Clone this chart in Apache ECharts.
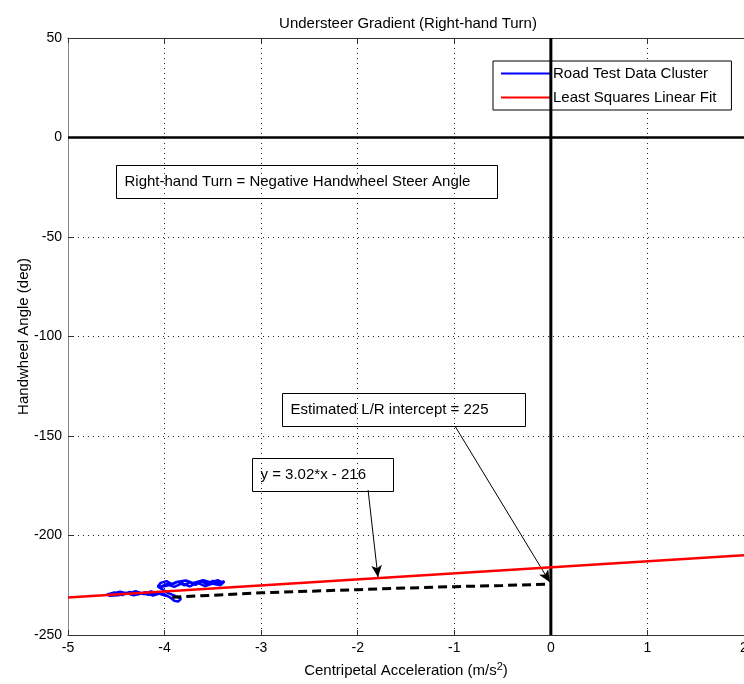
<!DOCTYPE html>
<html>
<head>
<meta charset="utf-8">
<script src="https://cdn.jsdelivr.net/npm/echarts@6/dist/echarts.min.js"></script>
<style>
  html, body { margin: 0; padding: 0; background: #fff; }
  #chart { width: 744px; height: 684px; }
</style>
</head>
<body>
<div id="chart"></div>
<script>
// Axis ranges and ticks
const xTicks = [-5, -4, -3, -2, -1, 0, 1, 2];
const yTicks = [-250, -200, -150, -100, -50, 0, 50];

// Road test samples: centripetal acceleration (m/s^2) vs handwheel angle (deg)
const clusterX = [-4.60, -4.52, -4.44, -4.36, -4.28, -4.20, -4.12, -4.04, -3.98, -4.06, -4.14, -4.22, -4.30, -4.38, -4.46, -4.55, -4.58, -4.48, -4.40, -4.32, -4.24, -4.16, -4.08, -4.00, -3.94, -3.90, -3.86, -3.83, -3.88, -3.96, -4.02, -4.07, -4.04, -3.98, -3.92, -3.86, -3.80, -3.74, -3.68, -3.62, -3.56, -3.50, -3.44, -3.38, -3.42, -3.50, -3.58, -3.66, -3.74, -3.82, -3.90, -3.98, -4.05, -3.97, -3.88, -3.78, -3.70, -3.60, -3.52, -3.45, -3.40];
const clusterY = [-229.8, -228.6, -229.9, -228.3, -229.7, -228.5, -230.2, -228.9, -230.4, -229.2, -228.1, -229.4, -228.0, -229.3, -228.2, -229.2, -230.3, -230.0, -228.8, -230.1, -229.0, -229.8, -228.6, -229.6, -231.2, -232.8, -233.2, -231.8, -230.6, -229.0, -227.2, -225.6, -223.8, -222.9, -224.6, -223.2, -225.0, -223.6, -224.8, -223.1, -224.4, -222.8, -224.0, -223.0, -225.0, -224.2, -225.4, -223.8, -225.6, -224.0, -225.8, -224.4, -226.0, -225.2, -223.4, -222.6, -223.9, -222.5, -223.6, -222.4, -223.5];

// Least squares fit y = 3.02*x - 216, endpoints at the axis limits
const fitX = [-5, 2];
const fitY = [-231.1, -209.96];

// Extrapolated cluster trend toward x = 0
const trendX = [-3.92, -3.5, -3.0, -2.5, -2.0, -1.5, -1.0, -0.5, 0];
const trendY = [-231.0, -230.0, -228.8, -228.0, -227.2, -226.4, -225.7, -225.1, -224.4];

// Reference axes through the origin
const zeroHX = [-5, 2];
const zeroHY = [0, 0];
const zeroVX = [0, 0];
const zeroVY = [-250, 50];

// Annotation texts, box anchors (top-left, data coords) and arrow endpoints
const noteTexts = [
  'Right-hand Turn = Negative Handwheel Steer Angle',
  'Estimated L/R intercept = 225',
  'y = 3.02*x - 216'
];
const noteAnchors = [[-4.503, -13.8], [-2.784, -128.4], [-3.095, -161.1]];
const noteBoxSizes = [[381, 33], [243, 33], [141, 33]];
const arrowFit = [[-1.893, -177.1], [-1.79, -221.0]];
const arrowIntercept = [[-0.993, -145.0], [-0.01, -223.5]];

const FONT = '"Liberation Sans", Arial, Helvetica, sans-serif';
const BLUE = '#0000ff';
const RED = '#ff0000';
const zip = (a, b) => a.map((v, i) => [v, b[i]]);

const chart = echarts.init(document.getElementById('chart'), null, { renderer: 'canvas' });

const option = {
  animation: false,
  backgroundColor: '#fff',
  textStyle: { fontFamily: FONT },
  title: {
    text: 'Understeer Gradient (Right-hand Turn)',
    left: 403,
    top: 11,
    textAlign: 'center',
    textStyle: { fontFamily: FONT, fontSize: 15, fontWeight: 'normal', color: '#000' }
  },
  grid: { left: 68, top: 38, width: 676, height: 597, containLabel: false, outerBoundsMode: 'none' },
  legend: {
    data: [
      { name: 'Road Test Data Cluster', icon: 'rect', itemStyle: { color: BLUE } },
      { name: 'Least Squares Linear Fit', icon: 'rect', itemStyle: { color: RED } }
    ],
    orient: 'vertical',
    left: 493,
    top: 61,
    padding: [4, 15, 4, 8],
    itemGap: 7,
    itemWidth: 50,
    itemHeight: 2,
    backgroundColor: '#fff',
    borderColor: '#000',
    borderWidth: 1,
    borderRadius: 0,
    z: 1,
    textStyle: { fontFamily: FONT, fontSize: 15, lineHeight: 17, color: '#000', padding: [0, 0, 0, -3] }
  },
  xAxis: [
    {
      type: 'value', min: -5, max: 2, interval: 1,
      name: '{a|Centripetal Acceleration (m/s}{s|2}{a|)}',
      nameLocation: 'middle', nameGap: 26, nameMoveOverlap: false,
      nameTextStyle: {
        rich: {
          a: { fontFamily: FONT, fontSize: 15, color: '#000' },
          s: { fontFamily: FONT, fontSize: 11, color: '#000', verticalAlign: 'top', padding: [0, 0, 9, 0] }
        }
      },
      axisLine: { show: true, onZero: false, lineStyle: { color: '#333', width: 1 } },
      axisTick: { show: true, inside: true, length: 5, lineStyle: { color: '#333' } },
      axisLabel: { color: '#000', fontSize: 14, margin: 6, fontFamily: FONT },
      splitLine: { show: true, lineStyle: { color: '#222', type: [1, 4], width: 1 } }
    },
    {
      type: 'value', min: -5, max: 2, interval: 1, position: 'top',
      axisLine: { show: true, onZero: false, lineStyle: { color: '#333', width: 1 } },
      axisTick: { show: true, inside: true, length: 5, lineStyle: { color: '#333' } },
      axisLabel: { show: false },
      splitLine: { show: false }
    }
  ],
  yAxis: {
    type: 'value', min: -250, max: 50, interval: 50,
    name: 'Handwheel Angle (deg)',
    nameLocation: 'middle', nameGap: 37, nameMoveOverlap: false,
    nameTextStyle: { fontFamily: FONT, fontSize: 15, color: '#000' },
    axisLine: { show: true, onZero: false, lineStyle: { color: '#888', width: 1 } },
    axisTick: { show: true, inside: true, length: 5, lineStyle: { color: '#333' } },
    axisLabel: { color: '#000', fontSize: 14, margin: 6, fontFamily: FONT },
    splitLine: { show: true, lineStyle: { color: '#222', type: [1, 4], width: 1 } }
  },
  series: [
    {
      name: 'Zero H', type: 'line', data: zip(zeroHX, zeroHY), symbol: 'none', silent: true,
      lineStyle: { color: '#000', width: 2.5 }, z: 3
    },
    {
      name: 'Zero V', type: 'line', data: zip(zeroVX, zeroVY), symbol: 'none', silent: true,
      lineStyle: { color: '#000', width: 3 }, z: 3
    },
    {
      name: 'Road Test Data Cluster', type: 'line', data: zip(clusterX, clusterY), symbol: 'none',
      color: BLUE,
      lineStyle: { color: BLUE, width: 2.5 }, itemStyle: { color: BLUE }, z: 4
    },
    {
      name: 'Trend', type: 'line', data: zip(trendX, trendY), symbol: 'none',
      lineStyle: { color: '#000', width: 3, type: [9, 5] }, z: 4
    },
    {
      name: 'Least Squares Linear Fit', type: 'line', data: zip(fitX, fitY), symbol: 'none',
      color: RED,
      lineStyle: { color: RED, width: 2.5 }, itemStyle: { color: RED }, z: 5,
      markLine: {
        silent: true,
        symbol: ['none', 'arrow'],
        symbolSize: [8, 12],
        label: { show: false },
        lineStyle: { color: '#000', width: 1, type: 'solid' },
        data: [
          [{ coord: arrowFit[0] }, { coord: arrowFit[1] }],
          [{ coord: arrowIntercept[0] }, { coord: arrowIntercept[1] }]
        ]
      }
    }
  ]
};

chart.setOption(option);

// Annotation boxes anchored in data coordinates
const graphics = noteTexts.map((t, i) => {
  const p = chart.convertToPixel({ xAxisIndex: 0, yAxisIndex: 0 }, noteAnchors[i]);
  const [w, h] = noteBoxSizes[i];
  return {
    type: 'group', x: Math.round(p[0]) + 0.5, y: Math.round(p[1]) + 0.5, z: 10,
    children: [
      { type: 'rect', shape: { x: 0, y: 0, width: w, height: h },
        style: { fill: 'none', stroke: '#000', lineWidth: 1 } },
      { type: 'text', x: 8, y: h / 2,
        style: { text: t, font: '15px ' + FONT, fill: '#000', textVerticalAlign: 'middle', verticalAlign: 'middle' } }
    ]
  };
});
chart.setOption({ graphic: graphics });
</script>
</body>
</html>
